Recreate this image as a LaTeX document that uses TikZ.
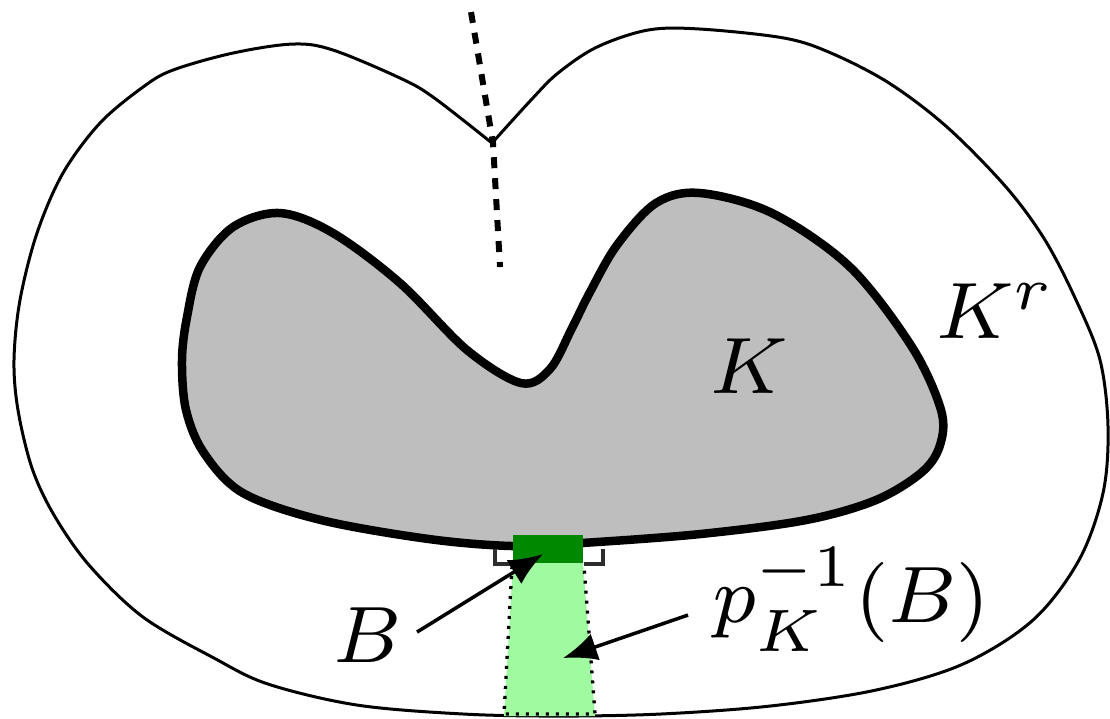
\documentclass[tikz,border=0pt]{standalone}
\usetikzlibrary{arrows.meta}
\definecolor{kgray}{RGB}{190,190,190}
\definecolor{dgreen}{RGB}{0,136,0}
\definecolor{lgreen}{RGB}{160,250,160}
\definecolor{markgray}{RGB}{45,45,45}
\tikzset{
  outerline/.style={line width=0.3pt, line join=round},
  kline/.style={line width=0.85pt, fill=kgray, line join=round},
  dashline/.style={line width=0.6pt, dash pattern=on 1.1pt off 1.0pt},
  dotline/.style={line width=0.33pt, dash pattern=on 0.3pt off 0.7pt},
  rmark/.style={line width=0.38pt, draw=markgray, line join=miter},
  arr/.style={line width=0.35pt, -{Latex[length=3.4pt,width=2.8pt]}},
  lbl/.style={inner sep=0pt, font=\fontsize{8}{9}\selectfont}
}
\begin{document}
\begin{tikzpicture}[x=0.1pt,y=-0.1pt]
\useasboundingbox (0,0) rectangle (1110,718);
% outer region K^r
\draw[outerline] plot[smooth, tension=0.55] coordinates {
 (492,143) (531,100) (558,73) (597,47) (648,30) (700,29) (784,38) (831,53)
 (889,83) (947,127) (1006,187) (1045,240) (1076,300) (1100,360) (1108,427)
 (1103,493) (1079,560) (1033,620) (963,664) (876,690) (770,706) (660,714)
 (560,716) (464,714) (357,705) (268,684) (214,658) (143,617) (89,565)
 (54,515) (32,468) (18,410) (14,360) (20,300) (37,233) (63,173) (100,123)
 (143,87) (173,70) (233,53) (293,44) (333,50) (400,78) (433,97) (492,143)};
% K
\draw[kline] plot[smooth cycle, tension=0.55] coordinates {
 (280,213) (333,233) (400,283) (467,350) (521,383) (550,369) (572,328)
 (590,292) (617,245) (656,203) (700,193) (772,213) (850,267) (912,347)
 (941,410) (940,445) (922,472) (876,500) (806,520) (700,534) (581,543)
 (513,546) (429,539) (321,520) (243,493) (204,453) (186,410) (182,360)
 (187,317) (200,267) (233,227)};
% preimage strip
\fill[lgreen] (513,563) -- (583,563) -- (595,716) -- (504,716) -- cycle;
\draw[dotline] (512,566) -- (504,714) -- (595,714) -- (584,566);
% B
\fill[dgreen] (513,535) rectangle (583,563);
% right-angle marks
\draw[rmark] (495,549) -- (495,564) -- (512,564);
\draw[rmark] (603,549) -- (603,564) -- (584,564);
% dashed line
\coordinate (dtop) at (471,12);
\coordinate (dmid) at (493,143);
\coordinate (dbot) at (500,267);
\draw[dashline] (dtop) -- (dmid) -- (dbot);
% labels
\node[lbl, anchor=base] (lK) at (749,393) {$K$};
\node[lbl, anchor=base west] (lKr) at (934,338) {$K^r$};
\node[lbl, anchor=base west] (lB) at (331,662) {$B$};
\node[lbl, anchor=base west] (lP) at (711,622) {$p_K^{-1}(B)$};
% arrows
\coordinate (Btail) at (417,632);
\coordinate (Btip) at (543,554);
\coordinate (Ptail) at (688,615);
\coordinate (Ptip) at (563,658);
\draw[arr] (Btail) -- (Btip);
\draw[arr] (Ptail) -- (Ptip);
\end{tikzpicture}
\end{document}
